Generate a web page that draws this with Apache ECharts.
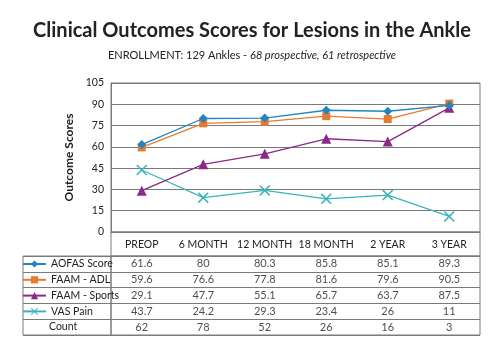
<!DOCTYPE html>
<html>
<head>
<meta charset="utf-8">
<script src="https://cdn.jsdelivr.net/npm/echarts@6/dist/echarts.min.js"></script>
<style>html,body{margin:0;padding:0;background:#fff;}#c{width:504px;height:360px;}</style>
</head>
<body>
<div id="c"></div>
<script>
var categories = ['PREOP', '6 MONTH', '12 MONTH', '18 MONTH', '2 YEAR', '3 YEAR'];
var aofasScore = [61.6, 80, 80.3, 85.8, 85.1, 89.3];
var faamAdl = [59.6, 76.6, 77.8, 81.6, 79.6, 90.5];
var faamSports = [29.1, 47.7, 55.1, 65.7, 63.7, 87.5];
var vasPain = [43.7, 24.2, 29.3, 23.4, 26, 11];
var counts = [62, 78, 52, 26, 16, 3];
var seriesNames = ['AOFAS Score', 'FAAM - ADL', 'FAAM - Sports', 'VAS Pain'];
var rowNames = ['AOFAS Score', 'FAAM - ADL', 'FAAM - Sports', 'VAS Pain', 'Count'];

var FONT = 'Lato';
var colors = ['#1f86c0', '#e87a2f', '#8a2a88', '#3bb5bb'];
var xPath = 'path://M0,1L1,0L5,4L9,0L10,1L6,5L10,9L9,10L5,6L1,10L0,9L4,5Z';
var lineColor = '#7a7a7a';

var tableRows = [aofasScore, faamAdl, faamSports, vasPain, counts];
var cellData = [];
tableRows.forEach(function (row, r) {
  row.forEach(function (v, c) { cellData.push([c, r, v]); });
});

var symbols = ['diamond', 'rect', 'triangle', xPath];
var symbolSizes = [9, 8, 10, 11];
var values = [aofasScore, faamAdl, faamSports, vasPain];

var lineSeries = seriesNames.map(function (n, i) {
  return {
    name: n, type: 'line', xAxisIndex: 0, yAxisIndex: 0,
    data: values[i], symbol: symbols[i], symbolSize: symbolSizes[i],
    lineStyle: { color: colors[i], width: 1.3 },
    itemStyle: { color: colors[i], borderColor: colors[i], borderWidth: 0, opacity: 1 },
    z: 10 - i
  };
});

var chart = echarts.init(document.getElementById('c'), null, { renderer: 'canvas' });
chart.setOption({
  animation: false,
  textStyle: { fontFamily: FONT },
  title: [{
    text: 'Clinical Outcomes Scores for Lesions in the Ankle',
    left: 'center', top: 21, padding: 0,
    textStyle: { fontFamily: FONT, fontWeight: 'bold', fontSize: 20, color: '#222' }
  }, {
    text: '{n|ENROLLMENT: 129 Ankles - }{i|68 prospective, 61 retrospective}',
    left: 'center', top: 50, padding: 0,
    textStyle: {
      fontWeight: 'normal',
      rich: {
        n: { fontFamily: FONT, fontSize: 11, color: '#222', fontWeight: 'normal' },
        i: { fontFamily: FONT, fontSize: 11, color: '#222', fontStyle: 'italic', fontWeight: 'normal' }
      }
    }
  }],
  legend: {
    data: seriesNames, orient: 'vertical', left: 22, top: 257, padding: 0,
    itemWidth: 23, itemHeight: 9, itemGap: 1.8,
    textStyle: { fontFamily: FONT, fontSize: 10.5, color: '#222', lineHeight: 14 },
    selectedMode: false
  },
  grid: [
    { left: 111, top: 83, width: 369, height: 149, show: true, borderColor: lineColor, borderWidth: 1 },
    { left: 111, top: 232, width: 369, height: 24, show: true, borderColor: lineColor, borderWidth: 1 },
    { left: 23, top: 256, width: 88, height: 79, show: true, borderColor: lineColor, borderWidth: 1 },
    { left: 111, top: 256, width: 369, height: 79, show: true, borderColor: lineColor, borderWidth: 1 }
  ],
  xAxis: [
    { gridIndex: 0, type: 'category', data: categories, boundaryGap: true,
      axisLine: { lineStyle: { color: lineColor } }, axisTick: { show: false },
      axisLabel: { interval: 0, fontFamily: FONT, fontSize: 10.5, color: '#222', margin: 7 } },
    { gridIndex: 1, type: 'category', data: categories, show: false },
    { gridIndex: 2, type: 'value', show: false },
    { gridIndex: 3, type: 'category', data: categories, show: false }
  ],
  yAxis: [
    { gridIndex: 0, type: 'value', min: 0, max: 105, interval: 15,
      name: 'Outcome Scores', nameLocation: 'middle', nameGap: 23, nameRotate: 90,
      nameTextStyle: { fontFamily: FONT, fontWeight: 'bold', fontSize: 12, color: '#222' },
      axisLine: { show: true, lineStyle: { color: lineColor } }, axisTick: { show: false },
      axisLabel: { fontFamily: FONT, fontSize: 10.5, color: '#222', margin: 7 },
      splitLine: { lineStyle: { color: lineColor, width: 1 } } },
    { gridIndex: 1, type: 'value', show: false },
    { gridIndex: 2, type: 'category', data: rowNames, inverse: true,
      axisLine: { show: false }, axisTick: { show: false }, axisLabel: { show: false },
      splitLine: { show: true, lineStyle: { color: lineColor, width: 1 } } },
    { gridIndex: 3, type: 'category', data: rowNames, inverse: true,
      axisLine: { show: false }, axisTick: { show: false },
      axisLabel: { show: true, margin: 62, align: 'left', fontFamily: FONT, fontSize: 10.5, color: '#222',
        formatter: function (v) { return v === 'Count' ? v : ''; } },
      splitLine: { show: true, lineStyle: { color: lineColor, width: 1 } } }
  ],
  series: lineSeries.concat([{
    name: 'table', type: 'scatter', xAxisIndex: 3, yAxisIndex: 3,
    data: cellData, symbolSize: 1, itemStyle: { color: 'rgba(0,0,0,0)' },
    label: { show: true, position: 'inside', fontFamily: FONT, fontSize: 11, color: '#222',
      formatter: function (p) { return String(p.value[2]); } },
    silent: true
  }])
});
</script>
</body>
</html>
